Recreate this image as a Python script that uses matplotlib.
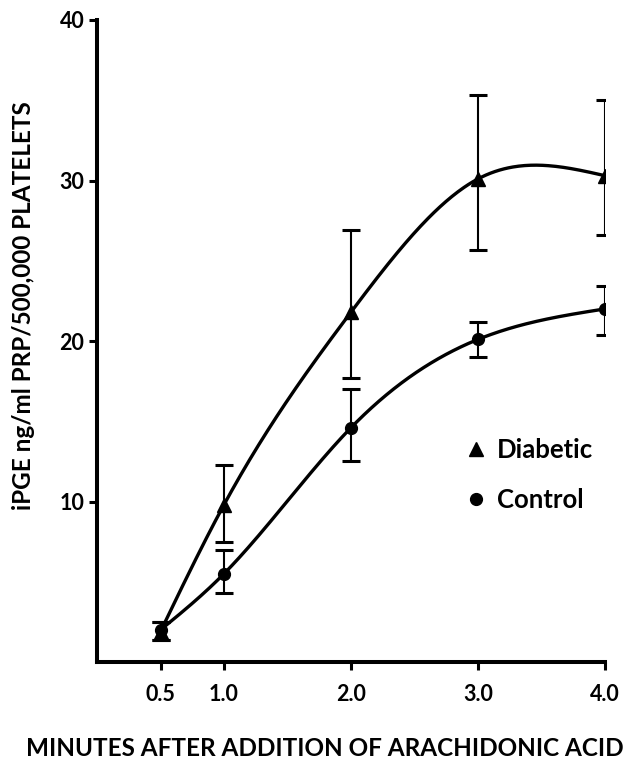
import numpy as np
import matplotlib
matplotlib.use("Agg")
import matplotlib.pyplot as plt
from matplotlib.lines import Line2D

# ---- data ----
minutes = [0.5, 1.0, 2.0, 3.0, 4.0]
diabetic = [1.9, 9.8, 21.8, 30.1, 30.3]
diabetic_err_low = [0.5, 2.35, 4.1, 4.4, 3.7]
diabetic_err_high = [0.6, 2.5, 5.1, 5.2, 4.7]
control = [2.0, 5.5, 14.6, 20.1, 22.0]
control_err_low = [0.6, 1.2, 2.1, 1.1, 1.6]
control_err_high = [0.5, 1.45, 2.4, 1.1, 1.4]

xticks = [0.5, 1.0, 2.0, 3.0, 4.0]
xticklabels = ["0.5", "1.0", "2.0", "3.0", "4.0"]
yticks = [10, 20, 30, 40]
yticklabels = ["10", "20", "30", "40"]
xlabel = "MINUTES AFTER ADDITION OF ARACHIDONIC ACID"
ylabel = "iPGE ng/ml PRP/500,000 PLATELETS"


def natural_spline(x, y, n=300):
    x = np.asarray(x, float)
    y = np.asarray(y, float)
    m = len(x)
    h = np.diff(x)
    A = np.zeros((m, m))
    b = np.zeros(m)
    A[0, 0] = 1
    A[-1, -1] = 1
    for i in range(1, m - 1):
        A[i, i - 1] = h[i - 1]
        A[i, i] = 2 * (h[i - 1] + h[i])
        A[i, i + 1] = h[i]
        b[i] = 3 * ((y[i + 1] - y[i]) / h[i] - (y[i] - y[i - 1]) / h[i - 1])
    c = np.linalg.solve(A, b)
    xs = np.linspace(x[0], x[-1], n)
    ys = np.empty_like(xs)
    for k, xv in enumerate(xs):
        i = min(np.searchsorted(x, xv, side="right") - 1, m - 2)
        i = max(i, 0)
        bb = (y[i + 1] - y[i]) / h[i] - h[i] * (2 * c[i] + c[i + 1]) / 3
        d = (c[i + 1] - c[i]) / (3 * h[i])
        t = xv - x[i]
        ys[k] = y[i] + bb * t + c[i] * t ** 2 + d * t ** 3
    return xs, ys


plt.rcParams['font.family'] = ['Lato', 'DejaVu Sans']
plt.rcParams['font.weight'] = 'bold'

fig = plt.figure(figsize=(6.24, 7.61), dpi=100)
ax = fig.add_axes([97 / 624, 1 - 662 / 761, (605 - 97) / 624, (662 - 20) / 761])

for yv, lo, hi, mk, ms in [(diabetic, diabetic_err_low, diabetic_err_high, '^', 10),
                          (control, control_err_low, control_err_high, 'o', 8.5)]:
    xs, ys = natural_spline(minutes, yv)
    ax.plot(xs, ys, color='black', lw=2.4, zorder=2, solid_capstyle='round')
    ax.errorbar(minutes, yv, yerr=[lo, hi], fmt='none', ecolor='black',
                elinewidth=1.5, capsize=6.5, capthick=2.2, zorder=3)
    ax.plot(minutes, yv, linestyle='none', marker=mk, ms=ms, color='black', zorder=4)

ax.set_xlim(0, 4.0)
ax.set_ylim(0, 40)
ax.set_xticks(xticks)
ax.set_xticklabels(xticklabels)
ax.set_yticks(yticks)
ax.set_yticklabels(yticklabels)
ax.tick_params(axis='both', direction='out', length=6, width=2.2, labelsize=15.5, pad=3)
ax.tick_params(axis='x', pad=10)
for s in ['top', 'right']:
    ax.spines[s].set_visible(False)
for s in ['left', 'bottom']:
    ax.spines[s].set_linewidth(2.9)
    ax.spines[s].set_capstyle('projecting')

fig.text(325 / 624, 1 - 749 / 761, xlabel, ha='center', va='center', fontsize=17.5,
         fontweight='bold')
fig.text(24 / 624, 1 - 306 / 761, ylabel, ha='center', va='center', rotation=90,
         fontsize=17.5, fontweight='bold')

handles = [Line2D([], [], linestyle='none', marker='^', ms=10, color='black'),
           Line2D([], [], linestyle='none', marker='o', ms=8.5, color='black')]
leg = ax.legend(handles, ['Diabetic', 'Control'], loc='upper left',
                bbox_to_anchor=(466 / 624, 1 - 438 / 761), bbox_transform=fig.transFigure,
                frameon=False, fontsize=18.5, handlelength=0.8, handletextpad=0.4,
                labelspacing=1.0, borderpad=0, borderaxespad=0)

fig.savefig('out.png', dpi=100)
